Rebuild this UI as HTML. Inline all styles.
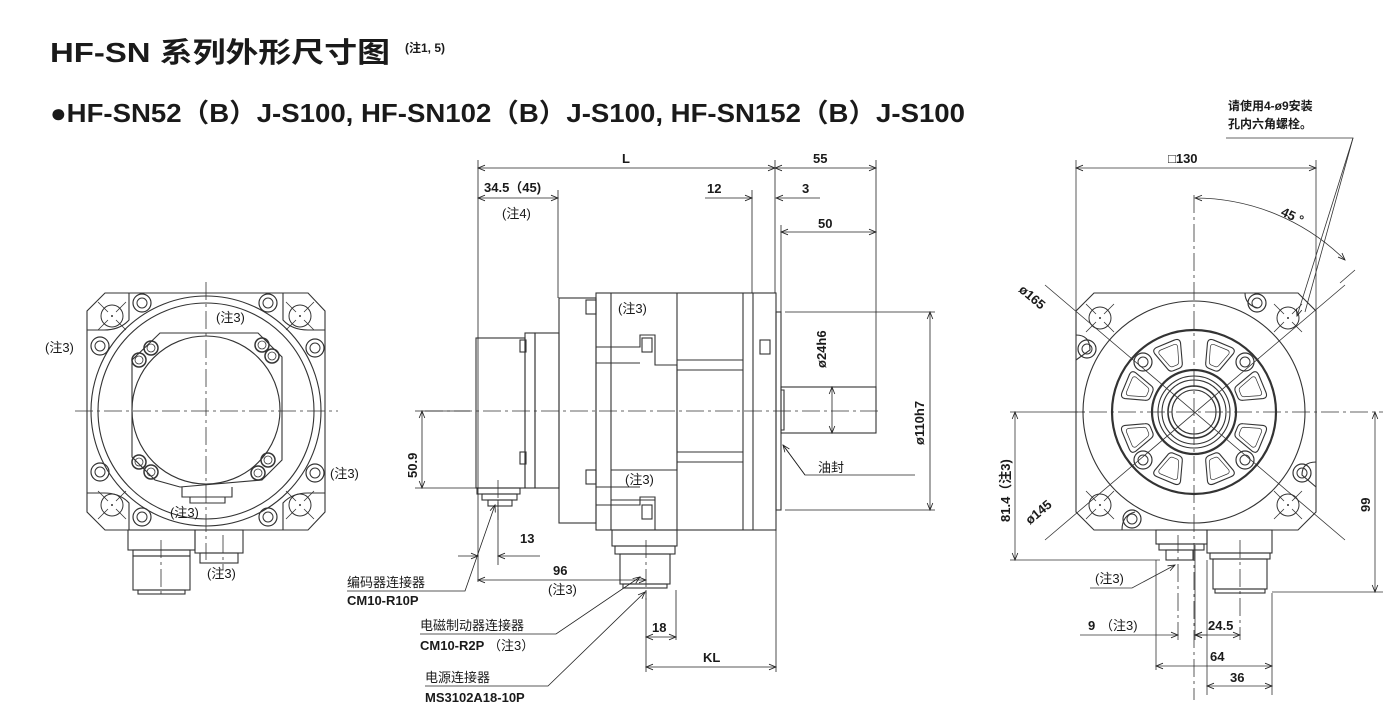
<!DOCTYPE html>
<html><head><meta charset="utf-8"><style>
html,body{margin:0;padding:0;background:#fff;}
svg{display:block;}
text{font-family:"Liberation Sans","Noto Sans CJK SC",sans-serif;fill:#1a1a1a;}
.d{font-size:13px;font-weight:bold;}
.c{font-size:13px;}
</style></head><body>
<svg width="1383" height="716" viewBox="0 0 1383 716" xmlns="http://www.w3.org/2000/svg">
<defs>
<marker id="a" viewBox="0 0 10 10" refX="10" refY="5" markerWidth="9" markerHeight="7" orient="auto-start-reverse" markerUnits="userSpaceOnUse"><path d="M0,1 L10,5 L0,9" fill="none" stroke="#222" stroke-width="1.2"/></marker>
<g id="xh"><circle r="11" fill="none" stroke="#333" stroke-width="1"/><path d="M-14,-14 L-4,-4 M4,4 L14,14 M14,-14 L4,-4 M-4,4 L-14,14" stroke="#333" stroke-width="0.8"/><circle r="1" fill="#333"/></g>
<g id="oo"><circle r="9" fill="none" stroke="#333" stroke-width="1.2"/><circle r="5" fill="none" stroke="#333" stroke-width="1"/></g>
<g id="sc"><circle r="7" fill="none" stroke="#333" stroke-width="1.5"/><circle r="4" fill="none" stroke="#333" stroke-width="0.8"/></g>
<g id="win"><path d="M-14,-9 Q-15,-14 -9,-14 L9,-14 Q15,-14 14,-9 L8,10 Q7,14 3,14 L-3,14 Q-7,14 -8,10 Z" fill="none" stroke="#333" stroke-width="1.1"/><path d="M-10,-7 Q-10,-10 -7,-10 L7,-10 Q10,-10 10,-7 L5,8 Q4,10 2,10 L-2,10 Q-4,10 -5,8 Z" fill="none" stroke="#333" stroke-width="0.7"/></g>
</defs>

<text x="50" y="62" textLength="340" lengthAdjust="spacingAndGlyphs" style="font-size:28px;font-weight:bold">HF-SN 系列外形尺寸图</text>
<text x="405" y="52" style="font-size:12px;font-weight:bold">(注1, 5)</text>
<text x="50" y="122" textLength="915" lengthAdjust="spacingAndGlyphs" style="font-size:26px;font-weight:bold">●HF-SN52（B）J-S100, HF-SN102（B）J-S100, HF-SN152（B）J-S100</text>

<!-- ============ LEFT VIEW ============ -->
<g stroke="#333" fill="none" stroke-width="1.1">
<path d="M105,293 L308,293 L325,311 L325,512 L308,530 L105,530 L87,512 L87,311 Z"/>
<path d="M129,293 L129,320 Q120,330 104,330 L87,330 M283,293 L283,320 Q292,330 308,330 L325,330 M129,530 L129,503 Q120,493 104,493 L87,493 M283,530 L283,503 Q292,493 308,493 L325,493"/>
<circle cx="206" cy="411" r="115"/>
<circle cx="206" cy="411" r="108"/>
<path d="M160,333 L258,333 L282,357 L282,460 L262,480 L180,487 L155,480 L132,457 L132,360 Z"/>
<circle cx="206" cy="410" r="74"/>
<path d="M182,487 L182,497 L232,497 L232,487"/>
<path d="M190,497 L190,503 L225,503 L225,497"/>
<rect x="128" y="530" width="67" height="20"/><rect x="133" y="550" width="57" height="6"/>
<rect x="133" y="556" width="57" height="34"/><rect x="138" y="590" width="47" height="4"/>
<rect x="195" y="530" width="48" height="23"/><rect x="200" y="553" width="38" height="10"/>
</g>
<use href="#xh" x="112" y="316"/><use href="#xh" x="300" y="316"/><use href="#xh" x="112" y="505"/><use href="#xh" x="300" y="505"/>
<use href="#oo" x="142" y="303"/><use href="#oo" x="268" y="303"/><use href="#oo" x="100" y="346"/><use href="#oo" x="315" y="348"/>
<use href="#oo" x="100" y="472"/><use href="#oo" x="315" y="473"/><use href="#oo" x="142" y="517"/><use href="#oo" x="268" y="517"/>
<use href="#sc" x="151" y="348"/><use href="#sc" x="262" y="345"/><use href="#sc" x="139" y="360"/><use href="#sc" x="272" y="356"/>
<use href="#sc" x="139" y="462"/><use href="#sc" x="151" y="472"/><use href="#sc" x="268" y="460"/><use href="#sc" x="258" y="473"/>
<g stroke="#333" stroke-width="0.8" stroke-dasharray="18,4,3,4" fill="none">
<path d="M75,411 L338,411"/><path d="M206,282 L206,560"/><path d="M161,540 L161,598"/><path d="M223,535 L223,570"/>
</g>
<text class="c" x="216" y="322">(注3)</text>
<text class="c" x="45" y="352">(注3)</text>
<text class="c" x="330" y="478">(注3)</text>
<text class="c" x="170" y="517">(注3)</text>
<text class="c" x="207" y="578">(注3)</text>

<!-- ============ MIDDLE VIEW ============ -->
<g stroke="#333" fill="none" stroke-width="1.1">
<rect x="476" y="338" width="49" height="150"/>
<rect x="525" y="333" width="10" height="155"/>
<rect x="535" y="333" width="24" height="155"/>
<rect x="559" y="298" width="37" height="225"/>
<rect x="596" y="293" width="180" height="237"/>
<path d="M611,293 L611,530 M677,293 L677,530 M743,293 L743,530 M753,293 L753,530"/>
<path d="M596,347 L640,347 L640,335 L655,335 L655,365 L677,365 L677,470 L611,470 M596,363 L640,363 M677,360 L743,360 M677,370 L743,370 M677,452 L743,452 M677,462 L743,462"/>
<path d="M596,487 L640,487 M596,505 L640,505 L640,497 L655,497 L655,530 M611,500 L655,500"/>
<rect x="586" y="300" width="10" height="14"/><rect x="586" y="470" width="10" height="14"/>
<rect x="642" y="338" width="10" height="14"/><rect x="642" y="505" width="10" height="14"/>
<rect x="520" y="340" width="6" height="12"/><rect x="520" y="452" width="6" height="12"/>
<rect x="760" y="340" width="10" height="14"/>
<rect x="776" y="312" width="5" height="198"/>
<rect x="781" y="387" width="95" height="46"/>
<path d="M781,390 L784,390 L784,430 L781,430"/>
<rect x="477" y="488" width="43" height="6"/><rect x="482" y="494" width="35" height="6"/><rect x="488" y="500" width="24" height="6"/>
<rect x="612" y="530" width="65" height="16"/><rect x="615" y="546" width="60" height="8"/><rect x="620" y="554" width="50" height="30"/><rect x="623" y="584" width="44" height="4"/>
</g>
<g stroke="#333" stroke-width="0.8" stroke-dasharray="18,4,3,4" fill="none">
<path d="M425,411 L880,411"/><path d="M498,480 L498,520"/><path d="M646,540 L646,600"/>
</g>
<text class="c" x="618" y="313">(注3)</text>
<text class="c" x="625" y="484">(注3)</text>

<!-- middle dims -->
<g stroke="#222" stroke-width="0.8" fill="none">
<path d="M478,160 L478,582 M558,190 L558,298 M752,190 L752,293 M775,160 L775,293 M876,160 L876,387 M646,590 L646,672 M676,590 L676,640 M776,530 L776,672"/>
<path d="M478,168 L775,168" marker-start="url(#a)" marker-end="url(#a)"/>
<path d="M775,168 L876,168" marker-start="url(#a)" marker-end="url(#a)"/>
<path d="M478,198 L558,198" marker-start="url(#a)" marker-end="url(#a)"/>
<path d="M705,198 L752,198" marker-end="url(#a)"/><path d="M820,198 L776,198" marker-end="url(#a)"/>
<path d="M781,232 L876,232" marker-start="url(#a)" marker-end="url(#a)"/>
<path d="M781,225 L781,312"/>
<path d="M832,387 L832,433" marker-start="url(#a)" marker-end="url(#a)"/>
<path d="M785,312 L935,312 M785,510 L935,510"/>
<path d="M930,312 L930,510" marker-start="url(#a)" marker-end="url(#a)"/>
<path d="M415,411 L470,411 M415,488 L478,488"/>
<path d="M422,411 L422,488" marker-start="url(#a)" marker-end="url(#a)"/>
<path d="M498,500 L498,565"/>
<path d="M458,556 L478,556" marker-end="url(#a)"/><path d="M540,556 L498,556" marker-end="url(#a)"/>
<path d="M478,580 L646,580" marker-start="url(#a)" marker-end="url(#a)"/>
<path d="M646,637 L676,637" marker-start="url(#a)" marker-end="url(#a)"/>
<path d="M646,667 L776,667" marker-start="url(#a)" marker-end="url(#a)"/>
<path d="M783,445 L805,475 L915,475"/>
<path d="M805,475 L783,445" marker-end="url(#a)"/>
<path d="M347,591 L465,591 L495,505" marker-end="url(#a)"/>
<path d="M420,634 L556,634 L640,577" marker-end="url(#a)"/>
<path d="M425,686 L548,686 L645,592" marker-end="url(#a)"/>
</g>
<text class="d" x="622" y="163">L</text>
<text class="d" x="813" y="163">55</text>
<text class="d" x="484" y="192">34.5（45)</text>
<text class="c" x="502" y="218">(注4)</text>
<text class="d" x="707" y="193">12</text>
<text class="d" x="802" y="193">3</text>
<text class="d" x="818" y="228">50</text>
<text class="d" transform="translate(826,368) rotate(-90)">ø24h6</text>
<text class="d" transform="translate(924,445) rotate(-90)">ø110h7</text>
<text class="d" transform="translate(417,478) rotate(-90)">50.9</text>
<text class="c" x="818" y="472">油封</text>
<text class="d" x="520" y="543">13</text>
<text class="d" x="553" y="575">96</text>
<text class="c" x="548" y="594">(注3)</text>
<text class="d" x="652" y="632">18</text>
<text class="d" x="703" y="662">KL</text>
<text class="c" x="347" y="587">编码器连接器</text>
<text class="d" x="347" y="605">CM10-R10P</text>
<text class="c" x="420" y="630">电磁制动器连接器</text>
<text class="d" x="420" y="650">CM10-R2P</text><text class="c" x="488" y="650">（注3）</text>
<text class="c" x="425" y="682">电源连接器</text>
<text class="d" x="425" y="702">MS3102A18-10P</text>

<!-- ============ RIGHT VIEW ============ -->
<g stroke="#333" fill="none" stroke-width="1.1">
<path d="M1094,293 L1298,293 L1316,311 L1316,512 L1298,530 L1094,530 L1076,512 L1076,311 Z"/>
<path d="M1076,335 Q1090,335 1090,350 L1076,360 M1316,462 Q1302,462 1302,475 L1316,487 M1122,530 Q1122,515 1135,512 M1245,293 Q1245,305 1258,308"/>
<circle cx="1194" cy="412" r="111"/>
<circle cx="1194" cy="412" r="82" stroke-width="2.2"/>
<circle cx="1194" cy="412" r="42" stroke-width="2.2"/>
<circle cx="1194" cy="412" r="36"/>
<circle cx="1194" cy="412" r="32"/>
<circle cx="1194" cy="412" r="26" stroke-width="1.6"/>
<circle cx="1194" cy="412" r="22"/>
<rect x="1156" y="530" width="51" height="14"/><rect x="1159" y="544" width="45" height="6"/><rect x="1166" y="550" width="27" height="10"/>
<rect x="1207" y="530" width="65" height="23"/><rect x="1210" y="553" width="60" height="6"/><rect x="1213" y="559" width="54" height="30"/><rect x="1215" y="589" width="50" height="4"/>
</g>
<g transform="translate(1194,412)">
<use href="#win" transform="rotate(-22.5) translate(0,-60) "/>
<use href="#win" transform="rotate(22.5) translate(0,-60)"/>
<use href="#win" transform="rotate(67.5) translate(0,-60)"/>
<use href="#win" transform="rotate(112.5) translate(0,-60)"/>
<use href="#win" transform="rotate(157.5) translate(0,-60)"/>
<use href="#win" transform="rotate(202.5) translate(0,-60)"/>
<use href="#win" transform="rotate(247.5) translate(0,-60)"/>
<use href="#win" transform="rotate(292.5) translate(0,-60)"/>
</g>
<use href="#xh" x="1100" y="318"/><use href="#xh" x="1288" y="318"/><use href="#xh" x="1100" y="505"/><use href="#xh" x="1288" y="505"/>
<use href="#oo" x="1257" y="303"/><use href="#oo" x="1087" y="349"/><use href="#oo" x="1302" y="473"/><use href="#oo" x="1132" y="519"/>
<use href="#oo" x="1143" y="362"/><use href="#oo" x="1245" y="362"/><use href="#oo" x="1143" y="460"/><use href="#oo" x="1245" y="460"/>
<g stroke="#333" stroke-width="0.8" stroke-dasharray="18,4,3,4" fill="none">
<path d="M1060,412 L1383,412"/><path d="M1194,195 L1194,700"/><path d="M1178,535 L1178,640"/><path d="M1240,540 L1240,640"/>
</g>
<g stroke="#333" stroke-width="0.8" fill="none">
<path d="M1045,285 L1345,540 M1045,540 L1345,285"/>
<path d="M1076,160 L1076,330 M1316,160 L1316,330"/>
<path d="M1076,168 L1316,168" marker-start="url(#a)" marker-end="url(#a)"/>
<path d="M1195,198 A214,214 0 0 1 1345,260" marker-start="url(#a)" marker-end="url(#a)"/>
<path d="M1340,283 L1355,270"/>
<path d="M1226,138 L1353,138 L1297,316" marker-end="url(#a)"/>
<path d="M1353,138 L1305,312"/>
<path d="M1010,412 L1085,412 M1010,560 L1160,560"/>
<path d="M1015,412 L1015,560" marker-start="url(#a)" marker-end="url(#a)"/>
<path d="M1272,592 L1383,592"/>
<path d="M1375,412 L1375,592" marker-start="url(#a)" marker-end="url(#a)"/>
<path d="M1090,588 L1132,588 L1175,565" marker-end="url(#a)"/>
<path d="M1156,560 L1156,670 M1195,545 L1195,640 M1207,560 L1207,695 M1272,593 L1272,695"/>
<path d="M1080,635 L1178,635" marker-end="url(#a)"/><path d="M1207,635 L1195,635" marker-end="url(#a)"/>
<path d="M1195,635 L1240,635" marker-start="url(#a)" marker-end="url(#a)"/>
<path d="M1156,666 L1272,666" marker-start="url(#a)" marker-end="url(#a)"/>
<path d="M1207,686 L1272,686" marker-start="url(#a)" marker-end="url(#a)"/>
</g>
<text class="c" x="1228" y="110" style="font-weight:bold;font-size:12px">请使用4-ø9安装</text>
<text class="c" x="1228" y="128" style="font-weight:bold;font-size:12px">孔内六角螺栓。</text>
<text class="d" x="1168" y="163">□130</text>
<text class="d" transform="translate(1280,215) rotate(25)">45 °</text>
<text class="d" transform="translate(1018,291) rotate(40)">ø165</text>
<text class="d" transform="translate(1030,525) rotate(-40)">ø145</text>
<text class="d" transform="translate(1010,522) rotate(-90)">81.4（注3)</text>
<text class="d" transform="translate(1370,512) rotate(-90)">99</text>
<text class="c" x="1095" y="583">(注3)</text>
<text class="d" x="1088" y="630">9</text><text class="c" x="1100" y="630">（注3)</text>
<text class="d" x="1208" y="630">24.5</text>
<text class="d" x="1210" y="661">64</text>
<text class="d" x="1230" y="682">36</text>
</svg>
</body></html>
